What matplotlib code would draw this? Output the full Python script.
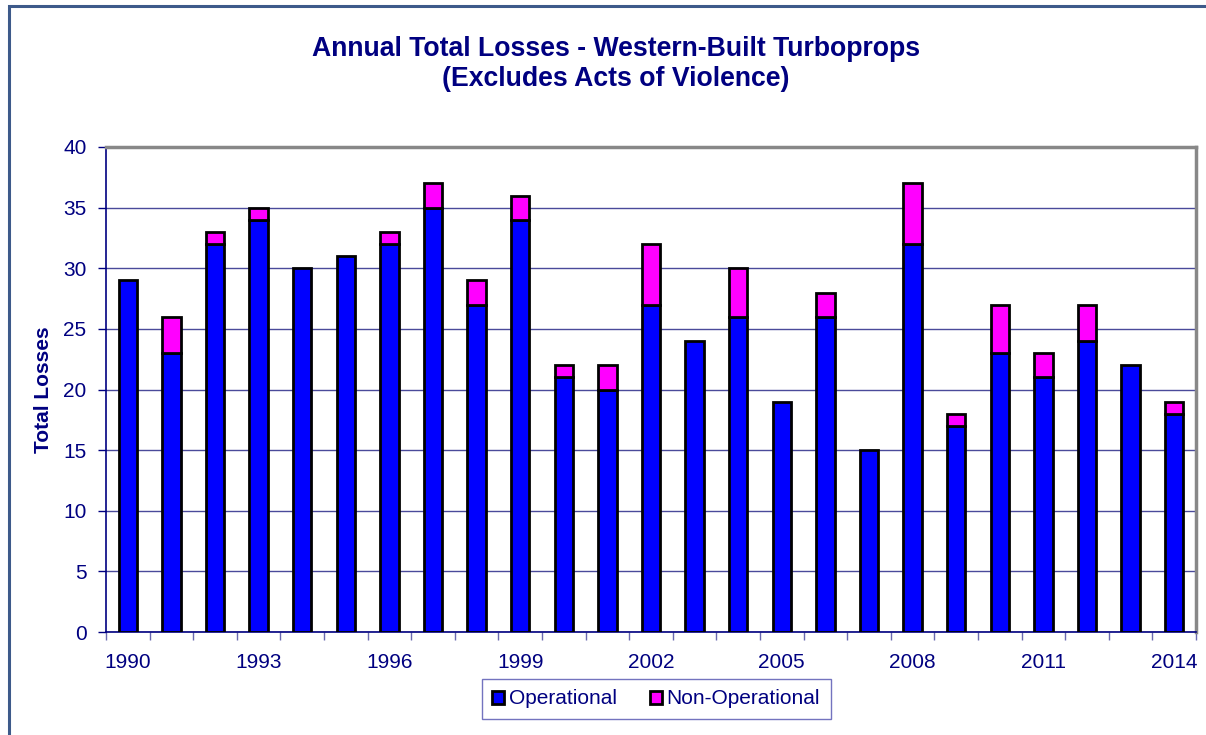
import matplotlib
matplotlib.use("Agg")
import matplotlib.pyplot as plt
from matplotlib.patches import Rectangle, Patch
import numpy as np

years = list(range(1990, 2015))
operational = [29, 23, 32, 34, 30, 31, 32, 35, 27, 34, 21, 20, 27, 24, 26, 19, 26, 15, 32, 17, 23, 21, 24, 22, 18]
non_operational = [0, 3, 1, 1, 0, 0, 1, 2, 2, 2, 1, 2, 5, 0, 4, 0, 2, 0, 5, 1, 4, 2, 3, 0, 1]
tick_years = [1990, 1993, 1996, 1999, 2002, 2005, 2008, 2011, 2014]

navy = "#000080"
plt.rcParams['font.family'] = ['Liberation Sans', 'DejaVu Sans']

fig = plt.figure(figsize=(12.06, 7.35), dpi=100)
W, H = 1206, 735
ax = fig.add_axes([106 / W, 1 - 632 / H, (1196 - 106) / W, (632 - 147) / H])

# outer frame
fig.patches.append(Rectangle((9 / W, -0.05), 1.1, 1 - 6 / H + 0.05, transform=fig.transFigure,
                             fill=False, edgecolor="#3d5a8a", linewidth=2.2, zorder=0))

x = np.arange(len(years))
bw = 0.42
ax.bar(x, operational, bw, color="#0000ff", edgecolor="black", linewidth=2, zorder=3)
nb = ax.bar(x, non_operational, bw, bottom=operational, color="#ff00ff", edgecolor="black", linewidth=2,
            zorder=3)
for r, v in zip(nb, non_operational):
    if v == 0:
        r.set_visible(False)

ax.set_xlim(-0.5, len(years) - 0.5)
ax.set_ylim(0, 40)
ax.set_yticks(range(0, 41, 5))
ax.yaxis.grid(True, color="#4a4a9a", linewidth=1, zorder=0)
ax.set_axisbelow(True)

ax.set_xticks(np.arange(len(years) + 1) - 0.5)
ax.set_xticklabels([])
ax.set_xticks([years.index(y) for y in tick_years], minor=True)
ax.set_xticklabels([str(y) for y in tick_years], minor=True)
ax.tick_params(axis="x", which="major", direction="out", length=6, color="#6a6ab0", width=1)
ax.tick_params(axis="x", which="minor", length=0, pad=15, labelsize=15, labelcolor=navy)
ax.tick_params(axis="y", direction="out", length=6, color=navy, width=1, labelsize=15, labelcolor=navy, pad=8)

for s in ["top", "right"]:
    ax.spines[s].set_color("#888888")
    ax.spines[s].set_linewidth(2.5)
for s in ["left", "bottom"]:
    ax.spines[s].set_color(navy)
    ax.spines[s].set_linewidth(1.2)

ax.set_ylabel("Total Losses", fontsize=15, fontweight="bold", color=navy, labelpad=7)

fig.text(0.5 + 13 / W, 1 - 64 / H, "Annual Total Losses - Western-Built Turboprops\n(Excludes Acts of Violence)",
         ha="center", va="center", fontsize=19.2, fontweight="bold", color=navy, linespacing=1.2)

handles = [Patch(facecolor="#0000ff", edgecolor="black", linewidth=2),
           Patch(facecolor="#ff00ff", edgecolor="black", linewidth=2)]
leg = fig.legend(handles, ["Operational", "Non-Operational"], loc="center",
                 bbox_to_anchor=(656 / W, 1 - 699 / H), ncol=2, frameon=True, fancybox=False,
                 fontsize=15, handlelength=0.6, handleheight=0.6, handletextpad=0.2, columnspacing=1.6,
                 borderpad=0.5, borderaxespad=0, edgecolor="#5050b0")
leg.get_frame().set_linewidth(1)
for t in leg.get_texts():
    t.set_color(navy)

fig.savefig("out.png", dpi=100)
